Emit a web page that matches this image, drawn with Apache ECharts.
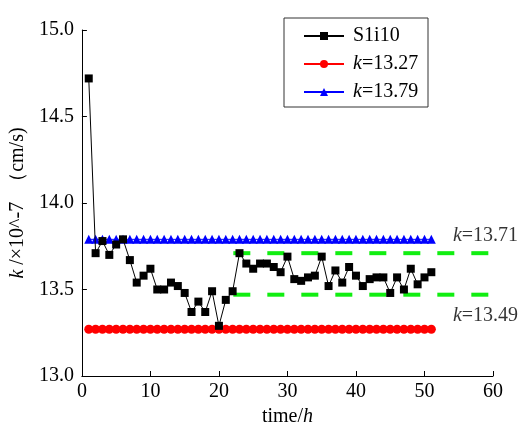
<!DOCTYPE html>
<html>
<head>
<meta charset="utf-8">
<script src="https://cdn.jsdelivr.net/npm/echarts@6/dist/echarts.min.js"></script>
<style>html,body{margin:0;padding:0;background:#fff;}#c{width:526px;height:436px;}</style>
</head>
<body>
<div id="c"></div>
<script>
var hours = [1,2,3,4,5,6,7,8,9,10,11,12,13,14,15,16,17,18,19,20,21,22,23,24,25,26,27,28,29,30,31,32,33,34,35,36,37,38,39,40,41,42,43,44,45,46,47,48,49,50,51];
var s1i10 = [14.72,13.71,13.78,13.70,13.76,13.79,13.67,13.54,13.58,13.62,
             13.50,13.50,13.54,13.52,13.48,13.37,13.43,13.37,13.49,13.29,
             13.44,13.49,13.71,13.65,13.62,13.65,13.65,13.63,13.60,13.69,
             13.56,13.55,13.57,13.58,13.69,13.52,13.61,13.54,13.63,13.58,
             13.52,13.56,13.57,13.57,13.48,13.57,13.50,13.62,13.53,13.57,13.60];
var k1327 = [13.27,13.27,13.27,13.27,13.27,13.27,13.27,13.27,13.27,13.27,
             13.27,13.27,13.27,13.27,13.27,13.27,13.27,13.27,13.27,13.27,
             13.27,13.27,13.27,13.27,13.27,13.27,13.27,13.27,13.27,13.27,
             13.27,13.27,13.27,13.27,13.27,13.27,13.27,13.27,13.27,13.27,
             13.27,13.27,13.27,13.27,13.27,13.27,13.27,13.27,13.27,13.27,13.27];
var k1379 = [13.79,13.79,13.79,13.79,13.79,13.79,13.79,13.79,13.79,13.79,
             13.79,13.79,13.79,13.79,13.79,13.79,13.79,13.79,13.79,13.79,
             13.79,13.79,13.79,13.79,13.79,13.79,13.79,13.79,13.79,13.79,
             13.79,13.79,13.79,13.79,13.79,13.79,13.79,13.79,13.79,13.79,
             13.79,13.79,13.79,13.79,13.79,13.79,13.79,13.79,13.79,13.79,13.79];
var bandX = [22.1, 64.8];
var bandUpper = 13.71;
var bandLower = 13.47;
var bandLabelX = 58.9;
var upperLabel = '{i|k}{n|=13.71}';
var lowerLabel = '{i|k}{n|=13.49}';
var xTicks = [0,10,20,30,40,50,60];
var yTicks = [13.0,13.5,14.0,14.5,15.0];
var seriesNames = ['S1i10','k=13.27','k=13.79'];

var FONT = 'Liberation Serif';
var rich = {
  i:{fontStyle:'italic',fontFamily:FONT,fontSize:20,color:'#000'},
  n:{fontFamily:FONT,fontSize:20,color:'#000'}
};
function zip(xs, ys){ return xs.map(function(x,i){return [x, ys[i]];}); }

var chart = echarts.init(document.getElementById('c'), null, {renderer:'canvas'});
chart.setOption({
  animation:false,
  backgroundColor:'#fff',
  textStyle:{fontFamily:FONT},
  grid:{left:81,right:33,top:30,bottom:60,containLabel:false},
  xAxis:{
    type:'value', min:xTicks[0], max:xTicks[xTicks.length-1], interval:10,
    name:'{n|time/}{i|h}', nameLocation:'middle', nameGap:31,
    nameTextStyle:{fontFamily:FONT,fontSize:20,color:'#000',rich:rich},
    axisLine:{lineStyle:{color:'#000',width:1}},
    axisTick:{inside:true,length:5,lineStyle:{color:'#000'}},
    axisLabel:{fontFamily:FONT,fontSize:20,color:'#000',margin:6},
    splitLine:{show:false}
  },
  yAxis:{
    type:'value', min:yTicks[0], max:yTicks[yTicks.length-1], interval:0.5,
    name:'{i|k}{n| /×10^-7  （cm/s)}', nameLocation:'middle', nameGap:37, nameRotate:90,
    nameTextStyle:{fontFamily:FONT,fontSize:20,color:'#000',rich:rich},
    axisLine:{show:true,lineStyle:{color:'#000',width:1}},
    axisTick:{show:true,inside:true,length:5,lineStyle:{color:'#000'}},
    axisLabel:{fontFamily:FONT,fontSize:20,color:'#000',margin:8,formatter:function(v){return v.toFixed(1);}},
    splitLine:{show:false}
  },
  legend:{
    orient:'vertical', left:303, top:25, padding:0, itemGap:6,
    itemWidth:40, itemHeight:10,
    data:seriesNames,
    formatter:function(n){ return n.indexOf('k=')===0 ? '{i|k}{n|' + n.slice(1) + '}' : '{n|' + n + '}'; },
    textStyle:{fontFamily:FONT,fontSize:20,color:'#000',lineHeight:22,padding:[0,0,0,4],rich:rich}
  },
  graphic:[{type:'rect',shape:{x:284,y:18,width:144,height:89},style:{fill:'none',stroke:'#333',lineWidth:1},z:100}],
  series:[
    {name:seriesNames[2],type:'line',data:zip(hours,k1379),symbol:'triangle',symbolSize:9,
     lineStyle:{color:'#0000ff',width:1},itemStyle:{color:'#0000ff'},z:3},
    {name:seriesNames[1],type:'line',data:zip(hours,k1327),symbol:'circle',symbolSize:9,
     lineStyle:{color:'#ff0000',width:1},itemStyle:{color:'#ff0000'},z:3},
    {name:'upper',type:'line',data:zip(bandX,[bandUpper,bandUpper]),symbol:'none',clip:false,silent:true,
     lineStyle:{color:'#11ee11',width:4,type:[17,17]},z:2},
    {name:'lower',type:'line',data:zip(bandX,[bandLower,bandLower]),symbol:'none',clip:false,silent:true,
     lineStyle:{color:'#11ee11',width:4,type:[17,17]},z:2},
    {name:'labels',type:'scatter',symbolSize:0,silent:true,clip:false,
     data:[
       {value:[bandLabelX,bandUpper],label:{show:true,position:'top',distance:7,formatter:upperLabel}},
       {value:[bandLabelX,bandLower],label:{show:true,position:'bottom',distance:11,formatter:lowerLabel}}
     ],
     label:{fontFamily:FONT,fontSize:20,color:'#000',rich:rich}},
    {name:seriesNames[0],type:'line',data:zip(hours,s1i10),symbol:'rect',symbolSize:8,
     lineStyle:{color:'#000',width:1},itemStyle:{color:'#000'},z:5}
  ]
});
</script>
</body>
</html>
